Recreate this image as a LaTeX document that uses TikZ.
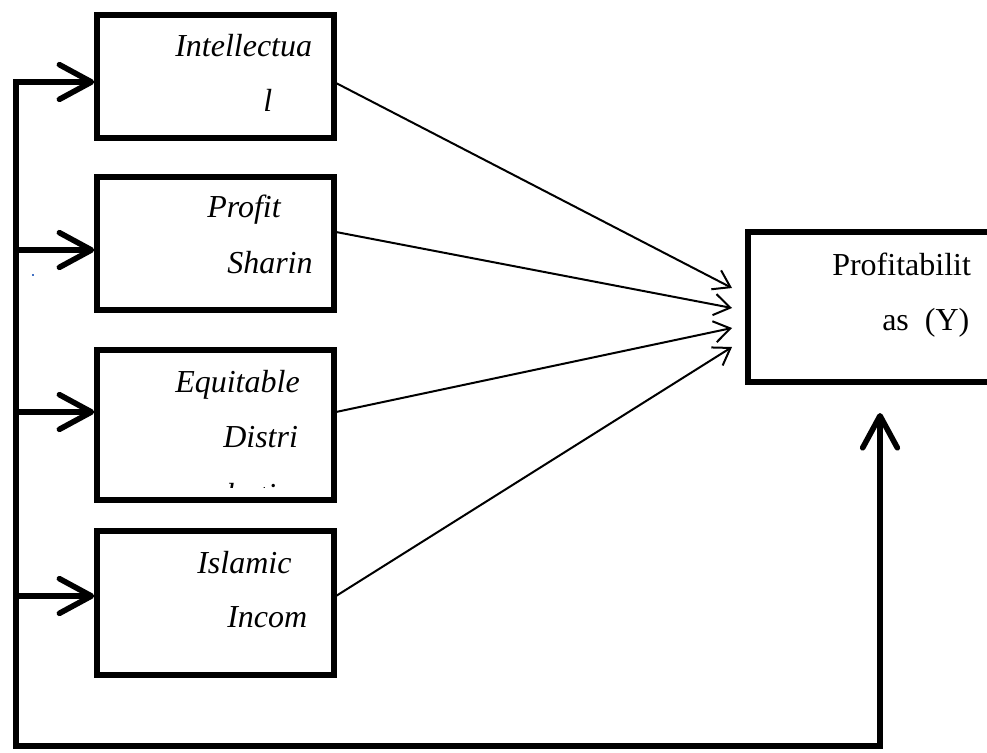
\documentclass[tikz,border=0pt]{standalone}
\usepackage{fontspec}
\setmainfont{Liberation Serif}
\usetikzlibrary{arrows.meta}
\definecolor{dotblue}{RGB}{68,114,196}

\begin{document}
\begin{tikzpicture}[x=0.75pt,y=-0.75pt,
  varbox/.style={draw=black, line width=4.2pt, minimum width=237*0.75pt, inner sep=0pt},
  ybox/.style={draw=black, line width=4.2pt, minimum width=262*0.75pt, minimum height=150*0.75pt, inner sep=0pt},
  lbl/.style={anchor=base west, inner sep=0pt, font=\fontsize{24}{28}\selectfont},
  ilbl/.style={lbl, font=\itshape\fontsize{24}{28}\selectfont},
  fb/.style={line width=4.2pt, -{Straight Barb[round,length=24pt,width=26pt]}},
  link/.style={line width=1.5pt, -{Straight Barb[length=12pt,width=16pt]}}]
  \useasboundingbox (0,0) rectangle (987,752);
  \clip (0,0) rectangle (987,752);

  \node [varbox, minimum height=123*0.75pt] (b1) at (215.5,76.5) {};
  \node [varbox, minimum height=133*0.75pt] (b2) at (215.5,243.5) {};
  \node [varbox, minimum height=150*0.75pt] (b3) at (215.5,425) {};
  \node [varbox, minimum height=144*0.75pt] (b4) at (215.5,603) {};
  \node [ybox] (py) at (879,307) {};

  \node [ilbl] (b1a) at (175,57) {Intellectua};
  \node [ilbl] (b1b) at (263,112) {l};
  \node [ilbl] (b2a) at (207,218) {Profit};
  \node [ilbl] (b2b) at (227,273) {Sharin};
  \node [ilbl] (b3a) at (175,392) {Equitable};
  \node [ilbl] (b3b) at (223,447) {Distri};
  \begin{scope}
    \clip (100,352) rectangle (331,487);
    \node [ilbl] (b3c) at (226,505) {bution};
  \end{scope}
  \node [ilbl] (b4a) at (197,573) {Islamic};
  \node [ilbl] (b4b) at (227,627) {Incom};
  \node [lbl] (pya) at (832,275) {Profitabilit};
  \node [lbl] (pyb) at (882,330) {as\ \ (Y)};

  \coordinate (j1) at (16,82);
  \coordinate (j2) at (16,250);
  \coordinate (j3) at (16,412);
  \coordinate (j4) at (16,596);
  \coordinate (c1) at (16,746);
  \coordinate (c2) at (880,746);
  \coordinate (up) at (880,413);
  \draw [fb, {Straight Barb[round,length=24pt,width=26pt]}-{Straight Barb[round,length=24pt,width=26pt]}, line join=miter]
    (up) -- (c2) -- (c1) -- (j1) -- (j1 -| b1.west);
  \draw [fb] (j2) -- (j2 -| b2.west);
  \draw [fb] (j3) -- (j3 -| b3.west);
  \draw [fb] (j4) -- (j4 -| b4.west);

  \coordinate (s1) at (336,83);
  \coordinate (s2) at (336,232);
  \coordinate (s3) at (336,412);
  \coordinate (s4) at (336,596);
  \coordinate (t1) at (732,288);
  \coordinate (t2) at (732,308);
  \coordinate (t3) at (732,328);
  \coordinate (t4) at (732,347);
  \draw [link] (s1) -- (t1);
  \draw [link] (s2) -- (t2);
  \draw [link] (s3) -- (t3);
  \draw [link] (s4) -- (t4);

  \fill [dotblue] (32,274) rectangle (34,276);
\end{tikzpicture}
\end{document}
